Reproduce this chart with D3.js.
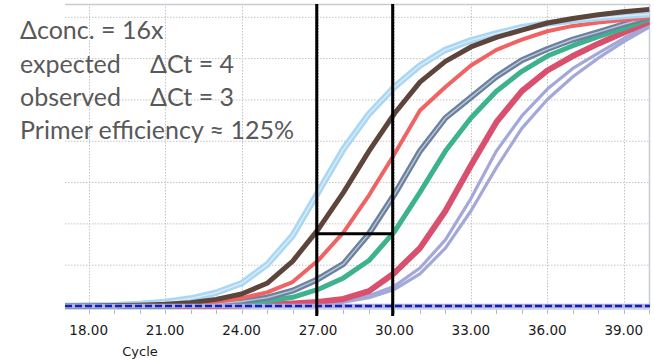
<!DOCTYPE html>
<html>
<head>
<meta charset="UTF-8">
<script src="https://cdn.jsdelivr.net/npm/d3@7"></script>
<style>
body{
  margin:0;
  background-color:#fff;
}
</style>
</head>
<body>
<script>
// amplification plot, two replicates per dilution

var cycles = d3.range(17, 41)

var lightBlue = [0, 0.01, 0.02, 0.05, 0.1, 0.18, 0.32, 0.55, 1.0, 1.7, 2.75, 3.8, 4.65, 5.3, 5.82, 6.2, 6.43, 6.6, 6.75, 6.84, 6.91, 6.97, 7.02, 7.06]
var brown     = [0, 0, 0.01, 0.02, 0.04, 0.08, 0.16, 0.29, 0.55, 1.08, 1.85, 2.75, 3.75, 4.66, 5.42, 5.92, 6.27, 6.5, 6.68, 6.85, 6.96, 7.05, 7.12, 7.18]
var salmon    = [0, 0, 0, 0.01, 0.02, 0.05, 0.1, 0.19, 0.33, 0.58, 1.1, 1.78, 2.68, 3.68, 4.73, 5.3, 5.82, 6.2, 6.45, 6.65, 6.78, 6.86, 6.92, 6.98]
var slate     = [0, 0, 0, 0, 0.01, 0.03, 0.06, 0.11, 0.2, 0.37, 0.65, 1.02, 1.75, 2.7, 3.75, 4.55, 5.05, 5.55, 5.95, 6.22, 6.45, 6.63, 6.82, 7.0]
var green     = [0, 0, 0, 0, 0, 0.01, 0.03, 0.07, 0.12, 0.21, 0.4, 0.68, 1.1, 1.8, 2.75, 3.75, 4.55, 5.2, 5.68, 6.05, 6.3, 6.52, 6.72, 6.95]
var crimson   = [0, 0, 0, 0, 0, 0, 0, 0.01, 0.03, 0.06, 0.1, 0.17, 0.36, 0.8, 1.4, 2.3, 3.4, 4.45, 5.2, 5.7, 6.05, 6.35, 6.62, 6.88]
var lavender1 = [0, 0, 0, 0, 0, 0, 0, 0, 0.01, 0.03, 0.06, 0.12, 0.25, 0.48, 0.92, 1.6, 2.6, 3.75, 4.6, 5.25, 5.75, 6.12, 6.48, 6.8]
var lavender2 = [0, 0, 0, 0, 0, 0, 0, 0, 0, 0.02, 0.04, 0.09, 0.2, 0.4, 0.78, 1.4, 2.3, 3.35, 4.3, 5.0, 5.55, 6.0, 6.4, 6.75]

var xTicks = [18, 21, 24, 27, 30, 33, 36, 39]
var yGrid = [1, 2, 3, 4, 5, 6, 7]

// the hand drawn Ct marks
var ctMarks = [26.95, 29.93]
var threshold = 1.75

var notes = [
  ["\u0394conc. = 16x", ""],
  ["expected", "\u0394Ct = 4"],
  ["observed", "\u0394Ct = 3"],
  ["Primer efficiency \u2248 125%", ""]
]

var width = 654
var height = 360

var series = [
  {v: lavender1, color: "#a3a8d8", w: 3.2},
  {v: lavender2, color: "#a3a8d8", w: 3.2},
  {v: crimson, color: "#d9506f", w: 6},
  {v: green, color: "#3db38d", w: 5},
  {v: slate, color: "#6b81a0", w: 6, dbl: true},
  {v: salmon, color: "#ef6363", w: 4},
  {v: lightBlue, color: "#abd7f3", w: 6.5, dbl: true},
  {v: brown, color: "#5d453b", w: 5}
]

var x = d3.scaleLinear().domain([17.07, 40.03]).range([65, 650])
var y = d3.scaleLinear().domain([0, 7.31]).range([306, 4])

var svg = d3.select('body')
    .append('svg')
    .attr('width', width)
    .attr('height', height)

svg.append("defs").append("clipPath")
    .attr("id", "plot")
  .append("rect")
    .attr("x", x.range()[0])
    .attr("y", 0)
    .attr("width", x.range()[1] - x.range()[0])
    .attr("height", y(0) + 6)

// grid
svg.selectAll(".hgrid")
  .data(yGrid)
  .enter().append("line")
    .attr("x1", x.range()[0])
    .attr("x2", x.range()[1])
    .attr("y1", d => y(d) + 0.5)
    .attr("y2", d => y(d) + 0.5)
    .attr("stroke", "#c4c4c4")
    .attr("stroke-dasharray", "1.5,1.5")

svg.selectAll(".vgrid")
  .data(xTicks)
  .enter().append("line")
    .attr("x1", d => Math.round(x(d)) + 0.5)
    .attr("x2", d => Math.round(x(d)) + 0.5)
    .attr("y1", y.range()[1])
    .attr("y2", y(0) + 8)
    .attr("stroke", "#c4c4c4")
    .attr("stroke-dasharray", "1.5,1.5")

// small ticks every cycle
svg.selectAll(".tick")
  .data(d3.range(18, 41))
  .enter().append("line")
    .attr("x1", d => Math.round(x(d)) + 0.5)
    .attr("x2", d => Math.round(x(d)) + 0.5)
    .attr("y1", y(0) + 3)
    .attr("y2", y(0) + 8)
    .attr("stroke", "#b4bac4")

// frame, top and right only
svg.append("path")
    .attr("d", "M" + x.range()[0] + "," + (y.range()[1] + 0.5) + "H" + (x.range()[1] - 0.5) + "V" + y(0))
    .attr("fill", "none")
    .attr("stroke", "#c6ccd4")
    .attr("stroke-width", 1.5)

svg.append("line")
    .attr("x1", x.range()[0])
    .attr("x2", x.range()[1])
    .attr("y1", y(0) + 3)
    .attr("y2", y(0) + 3)
    .attr("stroke", "#d6dbe2")
    .attr("stroke-width", 2)

var line = d3.line()
    .x((d, i) => x(cycles[i]))
    .y(d => y(d))

var curves = svg.append("g").attr("clip-path", "url(#plot)")

series.forEach(function(s){
  curves.append("path")
      .attr("d", line(s.v))
      .attr("fill", "none")
      .attr("stroke", s.color)
      .attr("stroke-width", s.w)
      .attr("stroke-linejoin", "round")
  if (s.dbl){
    curves.append("path")
        .attr("d", line(s.v))
        .attr("fill", "none")
        .attr("stroke", "#fff")
        .attr("stroke-opacity", 0.55)
        .attr("stroke-width", 1.4)
  }
})

// baseline: flat replicates plus the dashed negative
curves.append("line")
    .attr("x1", x.range()[0])
    .attr("x2", x.range()[1])
    .attr("y1", y(0))
    .attr("y2", y(0))
    .attr("stroke", "#9db8ea")
    .attr("stroke-width", 4.5)

curves.append("line")
    .attr("x1", x.range()[0])
    .attr("x2", x.range()[1])
    .attr("y1", y(0))
    .attr("y2", y(0))
    .attr("stroke", "#e0a0c8")
    .attr("stroke-width", 1.5)

curves.append("line")
    .attr("x1", x.range()[0])
    .attr("x2", x.range()[1])
    .attr("y1", y(0))
    .attr("y2", y(0))
    .attr("stroke", "#1c1cae")
    .attr("stroke-width", 2.5)
    .attr("stroke-dasharray", "7,3")

// Ct annotation
svg.selectAll(".ct")
  .data(ctMarks)
  .enter().append("line")
    .attr("x1", d => x(d))
    .attr("x2", d => x(d))
    .attr("y1", y.range()[1])
    .attr("y2", y(0) + 10)
    .attr("stroke", "#000")
    .attr("stroke-width", 3)

svg.append("line")
    .attr("x1", x(ctMarks[0]))
    .attr("x2", x(ctMarks[1]))
    .attr("y1", y(threshold))
    .attr("y2", y(threshold))
    .attr("stroke", "#000")
    .attr("stroke-width", 3)

// axis labels
svg.selectAll(".xlab")
  .data(xTicks)
  .enter().append("text")
    .attr("x", d => x(d))
    .attr("y", 335)
    .attr("text-anchor", "middle")
    .attr("font-family", "DejaVu Sans")
    .attr("font-size", 13.5)
    .attr("fill", "#1a1a1a")
    .text(d => d.toFixed(2))

svg.append("text")
    .attr("x", 140)
    .attr("y", 356)
    .attr("text-anchor", "middle")
    .attr("font-family", "DejaVu Sans")
    .attr("font-size", 13)
    .attr("fill", "#1a1a1a")
    .text("Cycle")

var note = svg.selectAll(".note")
  .data(notes)
  .enter().append("text")
    .attr("y", (d, i) => 39.3 + i * 33.3)
    .attr("font-family", "Lato")
    .attr("font-size", 25)
    .attr("fill", "#595959")

note.append("tspan")
    .attr("x", 20)
    .text(d => d[0])

note.append("tspan")
    .attr("x", 150)
    .text(d => d[1])
</script>
</body>
</html>
